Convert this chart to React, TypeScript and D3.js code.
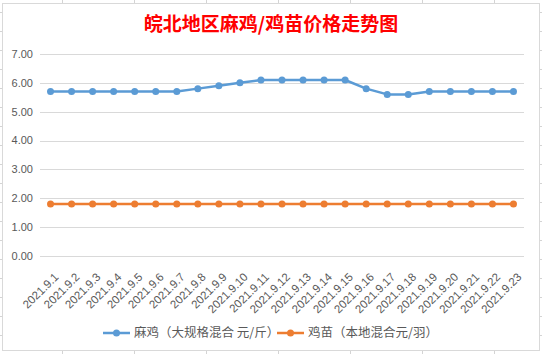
import React, { useEffect, useRef } from 'react';
import * as d3 from 'd3';

const dates = [
  '2021.9.1', '2021.9.2', '2021.9.3', '2021.9.4', '2021.9.5', '2021.9.6', '2021.9.7', '2021.9.8',
  '2021.9.9', '2021.9.10', '2021.9.11', '2021.9.12', '2021.9.13', '2021.9.14', '2021.9.15', '2021.9.16',
  '2021.9.17', '2021.9.18', '2021.9.19', '2021.9.20', '2021.9.21', '2021.9.22', '2021.9.23',
];
const maji = [5.7, 5.7, 5.7, 5.7, 5.7, 5.7, 5.7, 5.8, 5.9, 6.0, 6.1, 6.1, 6.1, 6.1, 6.1, 5.8, 5.6, 5.6, 5.7, 5.7, 5.7, 5.7, 5.7];
const jimiao = [1.8, 1.8, 1.8, 1.8, 1.8, 1.8, 1.8, 1.8, 1.8, 1.8, 1.8, 1.8, 1.8, 1.8, 1.8, 1.8, 1.8, 1.8, 1.8, 1.8, 1.8, 1.8, 1.8];
const yTicks = [0, 1, 2, 3, 4, 5, 6, 7];
const seriesNames = ['麻鸡（大规格混合 元/斤）', '鸡苗（本地混合元/羽）'];
const seriesColors = ['#5B9BD5', '#ED7D31'];

const W = 542;
const H = 354;
const FONT = '"Liberation Sans", Arial, sans-serif';
const CJK = '"Noto Sans CJK SC", sans-serif';

const App: React.FC = () => {
  const svgRef = useRef<SVGSVGElement>(null);

  useEffect(() => {
    const svg = d3.select(svgRef.current);
    svg.selectAll('*').remove();

    // spreadsheet cells behind the chart
    const cellRows = d3.range(12.5, H, 19);
    const cellCols = d3.range(62.5, W, 72);
    svg.append('rect').attr('width', W).attr('height', H).attr('fill', '#fff');
    svg.selectAll('.row').data(cellRows).enter().append('line')
      .attr('x1', 0).attr('x2', W).attr('y1', d => d).attr('y2', d => d)
      .attr('stroke', '#d4d4d4');
    svg.selectAll('.col').data(cellCols).enter().append('line')
      .attr('x1', d => d).attr('x2', d => d).attr('y1', 0).attr('y2', H)
      .attr('stroke', '#d4d4d4');

    // chart frame
    svg.append('rect')
      .attr('x', 2.5).attr('y', 3.5).attr('width', 537).attr('height', 347)
      .attr('fill', '#fff').attr('stroke', '#d9d9d9');

    const x = d3.scalePoint<string>().domain(dates).range([40, 524]).padding(0.5);
    const y = d3.scaleLinear().domain([0, 7]).range([256, 54]);

    // title
    svg.append('text')
      .attr('x', 271).attr('y', 31)
      .attr('text-anchor', 'middle')
      .style('font-family', CJK)
      .style('font-size', '19px')
      .style('font-weight', 'bold')
      .style('fill', '#FF0000')
      .text('皖北地区麻鸡/鸡苗价格走势图');

    // grid
    svg.selectAll('.grid').data(yTicks).enter().append('line')
      .attr('x1', 40).attr('x2', 524)
      .attr('y1', d => Math.round(y(d)) + 0.5).attr('y2', d => Math.round(y(d)) + 0.5)
      .attr('stroke', '#d9d9d9');

    svg.selectAll('.ylab').data(yTicks).enter().append('text')
      .attr('x', 33).attr('y', d => y(d)).attr('dy', '0.35em')
      .attr('text-anchor', 'end')
      .style('font-family', FONT).style('font-size', '11px').style('fill', '#595959')
      .text(d => d3.format('.2f')(d));

    svg.selectAll('.xlab').data(dates).enter().append('text')
      .attr('transform', d => `translate(${(x(d) || 0) + 3},${272}) rotate(-45)`)
      .attr('text-anchor', 'end')
      .attr('dy', '0.7em')
      .style('font-family', FONT).style('font-size', '11.5px').style('fill', '#595959')
      .text(d => d);

    const allSeries = [maji, jimiao];
    allSeries.forEach((vals, si) => {
      const line = d3.line<number>()
        .x((_, i) => x(dates[i]) || 0)
        .y(v => y(v));
      svg.append('path')
        .datum(vals)
        .attr('fill', 'none')
        .attr('stroke', seriesColors[si])
        .attr('stroke-width', 2.5)
        .attr('stroke-linejoin', 'round')
        .attr('d', line);
      svg.selectAll(`.dot-${si}`).data(vals).enter().append('circle')
        .attr('cx', (_, i) => x(dates[i]) || 0)
        .attr('cy', v => y(v))
        .attr('r', 3.5)
        .attr('fill', seriesColors[si]);
    });

    // legend
    const legendX = [103, 277];
    const legendY = 333;
    seriesNames.forEach((name, i) => {
      const g = svg.append('g').attr('transform', `translate(${legendX[i]},${legendY})`);
      g.append('line').attr('x1', 0).attr('x2', 27).attr('y1', 0).attr('y2', 0)
        .attr('stroke', seriesColors[i]).attr('stroke-width', 2.5);
      g.append('circle').attr('cx', 13.5).attr('cy', 0).attr('r', 3.5).attr('fill', seriesColors[i]);
      g.append('text').attr('x', 31).attr('y', 0).attr('dy', '0.35em')
        .style('font-family', CJK).style('font-size', '12.5px').style('fill', '#595959')
        .text(name);
    });
  }, []);

  return (
    <div style={{ position: 'fixed', left: 0, top: 0 }}>
      <svg ref={svgRef} width={W} height={H} style={{ display: 'block' }} />
    </div>
  );
};

export default App;
